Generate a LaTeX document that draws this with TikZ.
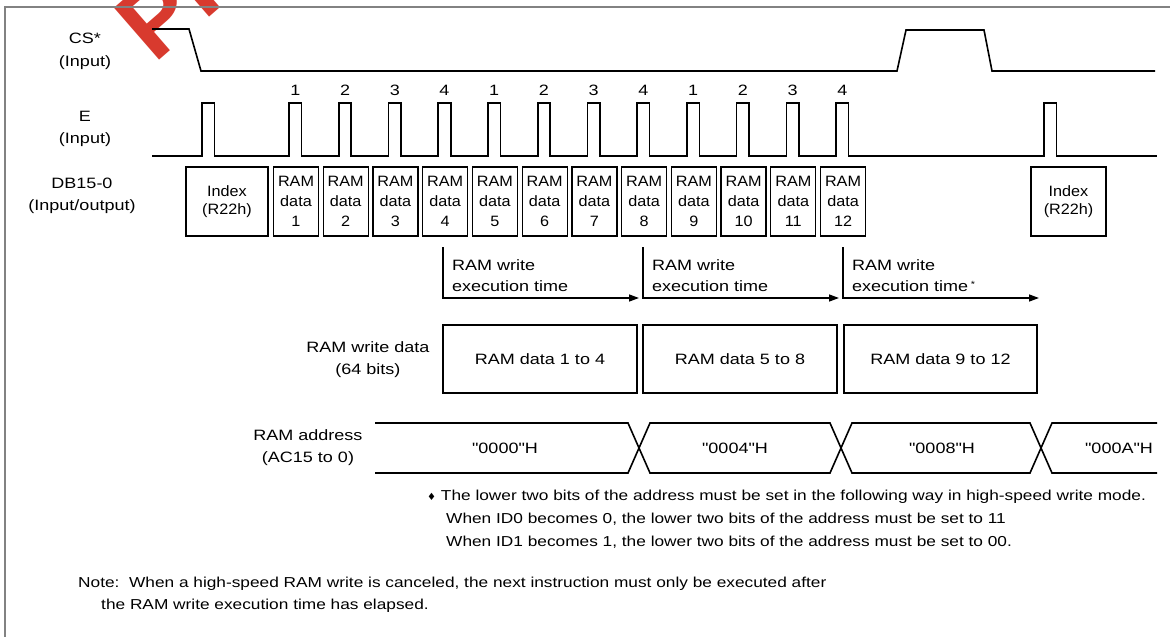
\documentclass[tikz,border=0pt]{standalone}
\usepackage{fontspec}
\setmainfont{Liberation Sans}[FakeStretch=1.2]
\newfontfamily\boxfont{Liberation Sans}[FakeStretch=1.08]
\newfontfamily\qfont{Liberation Sans}[FakeStretch=1.2, Ligatures=TeXOff]
\newfontfamily\wmfont{Liberation Sans}
\newfontfamily\symfont{DejaVu Sans}
\usetikzlibrary{arrows.meta}
\definecolor{wmred}{RGB}{216,58,46}
\definecolor{framegray}{RGB}{130,130,130}
\begin{document}
\begin{tikzpicture}[x=1pt,y=-1pt,
  sig/.style={line width=1.6pt, line join=miter},
  lbl/.style={font=\fontsize{15}{22.5}\selectfont, align=center, inner sep=0pt},
  adr/.style={font=\qfont\fontsize{15}{18}\selectfont, inner sep=0pt},
  num/.style={font=\fontsize{15}{16}\selectfont, inner sep=0pt},
  dbox/.style={draw, line width=1.3pt, minimum width=45pt, minimum height=69pt, inner sep=0pt, align=center, font=\boxfont\fontsize{15}{20}\selectfont},
  wbox/.style={draw, line width=1.3pt, minimum height=68pt, inner sep=0pt, font=\fontsize{15}{18}\selectfont},
  txt/.style={font=\fontsize{15}{18}\selectfont, inner sep=0pt, anchor=base west},
  note/.style={font=\fontsize{14.4}{18}\selectfont, inner sep=0pt, anchor=base west},
  exarrow/.style={line width=1.3pt, -{Triangle[length=10pt,width=7pt]}}]
\useasboundingbox (0,0) rectangle (1170,637);
% watermark
\begin{scope}
\clip (0,0) rectangle (1170,637);
\node[anchor=base west, rotate=41, text=wmred, inner sep=0pt, font=\wmfont\bfseries\fontsize{100}{100}\selectfont] (wm) at (154,65) {PR};
\end{scope}
% frame
\draw[framegray, line width=2pt] (5,637) -- (5,7) -- (1170,7);
% left labels
\node[lbl] (lcs) at (85,51.5) {CS*\\(Input)};
\node[lbl] (le) at (85,129) {E\\(Input)};
\node[lbl] (ldb) at (82,196) {DB15-0\\(Input/output)};
% CS* signal
\draw[sig] (152,29) -- (189,29) -- (201,71) -- (897,71) -- (906,30) -- (984,30) -- (992,71) -- (1155,71);
% E signal
\draw[sig] (152,156) \foreach \r in {202,289,338.7,388.5,438.2,487.9,537.7,587.4,637.1,686.8,736.6,786.3,836.0,1044} { -- (\r,156) -- (\r,103) -- (\r+12.5,103) -- (\r+12.5,156) } -- (1157,156);
% pulse numbers
\foreach \k/\n in {1/1,2/2,3/3,4/4,5/1,6/2,7/3,8/4,9/1,10/2,11/3,12/4} {
  \node[num] (e\k) at ({295.3+49.73*(\k-1)},90) {\n};
}
% DB boxes
\node[dbox, minimum width=82pt] (idx1) at (227,201.5) {Index\\[-2pt](R22h)};
\foreach \k in {1,...,12} {
  \node[dbox] (d\k) at ({296+49.73*(\k-1)},201.5) {RAM\\data\\\k};
}
\node[dbox, minimum width=75pt] (idx2) at (1068.5,201.5) {Index\\[-2pt](R22h)};
% execution time arrows
\coordinate (a0) at (443,247);
\coordinate (a1) at (643,247);
\coordinate (a2) at (843,247);
\coordinate (a3) at (1043,247);
\foreach \i/\j in {0/1,1/2,2/3} {
  \draw[exarrow] (a\i) -- ([yshift=-51pt]a\i) -- ([yshift=-51pt,xshift=-4pt]a\j);
}
\node[txt] (t1a) at (452,270) {RAM write};
\node[txt] (t1b) at (452,291) {execution time};
\node[txt] (t2a) at (652,270) {RAM write};
\node[txt] (t2b) at (652,291) {execution time};
\node[txt] (t3a) at (852,270) {RAM write};
\node[txt] (t3b) at (852,291) {execution time\,\raisebox{4pt}{\fontsize{9}{9}\selectfont *}};
% RAM write data
\node[lbl] (lwd) at (368,359.5) {RAM write data\\(64 bits)};
\node[wbox, minimum width=194pt] (w1) at (540,359) {RAM data 1 to 4};
\node[wbox, minimum width=194pt] (w2) at (740,359) {RAM data 5 to 8};
\node[wbox, minimum width=193pt] (w3) at (940.5,359) {RAM data 9 to 12};
% RAM address
\node[lbl] (lad) at (308,447.5) {RAM address\\(AC15 to 0)};
\draw[sig] (375,423) -- (628,423) -- (650,473) -- (830,473) -- (852,423) -- (1030,423) -- (1052,473) -- (1157,473);
\draw[sig] (375,473) -- (628,473) -- (650,423) -- (830,423) -- (852,473) -- (1030,473) -- (1052,423) -- (1157,423);
\node[adr] (ad1) at (505,448) {"0000"H};
\node[adr] (ad2) at (735,448) {"0004"H};
\node[adr] (ad3) at (942,448) {"0008"H};
\node[adr] (ad4) at (1119,448) {"000A"H};
% notes
\node[note] (n1) at (427,500) {{\symfont\fontsize{10}{10}\selectfont ♦} The lower two bits of the address must be set in the following way in high-speed write mode.};
\node[note] (n2) at (446,523) {When ID0 becomes 0, the lower two bits of the address must be set to 11};
\node[note] (n3) at (446,546) {When ID1 becomes 1, the lower two bits of the address must be set to 00.};
\node[note] (n4) at (78,587) {Note:\ \ When a high-speed RAM write is canceled, the next instruction must only be executed after};
\node[note] (n5) at (101,609) {the RAM write execution time has elapsed.};
\end{tikzpicture}
\end{document}
